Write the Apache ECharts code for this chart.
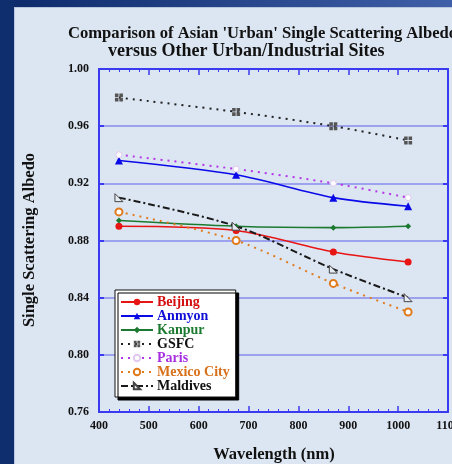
<!DOCTYPE html>
<html>
<head>
<meta charset="utf-8">
<script src="https://cdn.jsdelivr.net/npm/echarts@6/dist/echarts.min.js"></script>
<style>
  html, body { margin: 0; padding: 0; background: #dce6f2; }
  #chart { width: 452px; height: 464px; }
</style>
</head>
<body>
<div id="chart"></div>
<script>
// Wavelengths (nm) of the retrievals
const wavelengths = [440, 675, 870, 1020];

// Single scattering albedo per site
const beijing  = [0.890, 0.887, 0.872, 0.865];
const anmyon   = [0.936, 0.926, 0.910, 0.904];
const kanpur   = [0.894, 0.890, 0.889, 0.890];
const gsfc     = [0.980, 0.970, 0.960, 0.950];
const paris    = [0.940, 0.930, 0.920, 0.910];
const mexico   = [0.900, 0.880, 0.850, 0.830];
const maldives = [0.910, 0.890, 0.860, 0.840];

const siteNames = ['Beijing', 'Anmyon', 'Kanpur', 'GSFC', 'Paris', 'Mexico City', 'Maldives'];

const serif = '"Liberation Serif", "Times New Roman", serif';
const axisBlue = '#3a3af0';

function pairs(vals) {
  return wavelengths.map((w, i) => [w, vals[i]]);
}

const styles = {
  'Beijing':     { color: '#e81515', text: '#d41010', type: 'solid', width: 1.6, symbol: 'circle', size: 7 },
  'Anmyon':      { color: '#0a0ae8', text: '#1010d8', type: 'solid', width: 1.6, symbol: 'triangle', size: 8 },
  'Kanpur':      { color: '#1c7a30', text: '#1c7a30', type: 'solid', width: 1.6, symbol: 'diamond', size: 6 },
  'GSFC':        { color: '#222222', text: '#111111', type: [2, 5], width: 2, symbol: 'path://M0,0H4V4H0Z M5,0H9V4H5Z M0,5H4V9H0Z M5,5H9V9H5Z', size: 8, fill: '#555555' },
  'Paris':       { color: '#b436e8', text: '#a62ee0', type: [2, 5], width: 2, symbol: 'circle', size: 6, fill: '#ffffff', border: '#e0c8f0' },
  'Mexico City': { color: '#e07a1c', text: '#d8701a', type: [2, 5], width: 2, symbol: 'emptyCircle', size: 7 },
  'Maldives':    { color: '#1a1a1a', text: '#111111', type: [7, 3, 2, 3], width: 2, symbol: 'path://M0,0L10,10L0,10Z', size: 8, fill: '#e6ecf4', border: '#444444' }
};

const seriesValues = [beijing, anmyon, kanpur, gsfc, paris, mexico, maldives];

const series = siteNames.map((name, i) => {
  const s = styles[name];
  const itemStyle = { color: s.fill || s.color };
  if (s.border) { itemStyle.borderColor = s.border; itemStyle.borderWidth = 1; }
  if (s.symbol === 'emptyCircle') { itemStyle.borderWidth = 1.6; itemStyle.borderColor = s.color; }
  return {
    name: name,
    type: 'line',
    data: pairs(seriesValues[i]),
    smooth: 0.3,
    symbol: s.symbol,
    symbolSize: s.size,
    showSymbol: true,
    lineStyle: { color: s.color, width: s.width, type: s.type },
    itemStyle: itemStyle,
    z: 3
  };
});

const chart = echarts.init(document.getElementById('chart'), null, { renderer: 'canvas' });

const tickLabel = { color: '#111', fontFamily: serif, fontWeight: 'bold', fontSize: 12 };

chart.setOption({
  backgroundColor: '#dce6f2',
  animation: false,
  grid: { left: 99, right: 4, top: 69, bottom: 52, outerBoundsMode: 'none', containLabel: false },
  graphic: [
    { type: 'rect', shape: { x: 0, y: 0, width: 452, height: 7 }, z: 100,
      style: { fill: new echarts.graphic.LinearGradient(0, 0, 1, 0, [
        { offset: 0, color: '#0c2a6a' }, { offset: 1, color: '#3f5fa8' }]) } },
    { type: 'rect', shape: { x: 0, y: 0, width: 14, height: 464 }, z: 100, style: { fill: '#0f2e6e' } },
    { type: 'rect', shape: { x: 14, y: 7, width: 438, height: 1 }, z: 100, style: { fill: '#b9c7de' } },
    { type: 'rect', shape: { x: 14, y: 7, width: 1, height: 457 }, z: 100, style: { fill: '#b9c7de' } },
    { type: 'text', left: 68, top: 25, z: 100,
      style: { text: "Comparison of Asian 'Urban' Single Scattering Albedo", font: 'bold 16.6px ' + serif, fill: '#111' } },
    { type: 'text', left: 108, top: 42, z: 100,
      style: { text: 'versus Other Urban/Industrial Sites', font: 'bold 18px ' + serif, fill: '#111' } },
    { type: 'text', x: 30, y: 240, rotation: Math.PI / 2, z: 100,
      style: { text: 'Single Scattering Albedo', font: 'bold 16.5px ' + serif, fill: '#111', align: 'center', verticalAlign: 'middle' } },
    { type: 'text', x: 274, y: 455, z: 100,
      style: { text: 'Wavelength (nm)', font: 'bold 16.5px ' + serif, fill: '#111', align: 'center', verticalAlign: 'middle' } }
  ],
  legend: {
    orient: 'vertical',
    left: 115,
    top: 290,
    padding: [5, 6, 4, 5],
    itemGap: 0,
    itemWidth: 32,
    itemHeight: 8,
    backgroundColor: '#ffffff',
    borderColor: '#111',
    borderWidth: 1,
    borderRadius: 0,
    shadowColor: '#000',
    shadowBlur: 0,
    shadowOffsetX: 3,
    shadowOffsetY: 3,
    textStyle: { fontFamily: serif, fontWeight: 'bold', fontSize: 14, lineHeight: 14, padding: [0, 0, 0, -1] },
    data: siteNames.map(n => ({ name: n, textStyle: { color: styles[n].text } }))
  },
  xAxis: [
    {
      type: 'value', min: 400, max: 1100, interval: 100, position: 'bottom',
      axisLine: { show: true, onZero: false, lineStyle: { color: axisBlue, width: 2 } },
      axisTick: { show: true, inside: true, length: 6, lineStyle: { color: axisBlue, width: 1.5 } },
      minorTick: { show: true, splitNumber: 5, length: 3, lineStyle: { color: axisBlue, width: 1 } },
      axisLabel: Object.assign({ margin: 8, formatter: v => String(v) }, tickLabel),
      splitLine: { show: false }
    },
    {
      type: 'value', min: 400, max: 1100, interval: 100, position: 'top',
      axisLine: { show: true, onZero: false, lineStyle: { color: axisBlue, width: 2 } },
      axisTick: { show: true, inside: true, length: 6, lineStyle: { color: axisBlue, width: 1.5 } },
      minorTick: { show: true, splitNumber: 5, length: 3, lineStyle: { color: axisBlue, width: 1 } },
      axisLabel: { show: false },
      splitLine: { show: false }
    }
  ],
  yAxis: [
    {
      type: 'value', min: 0.76, max: 1.00, interval: 0.04, position: 'left',
      axisLine: { show: true, onZero: false, lineStyle: { color: axisBlue, width: 2 } },
      axisTick: { show: true, inside: true, length: 5, lineStyle: { color: axisBlue, width: 2 } },
      axisLabel: Object.assign({ margin: 10, formatter: v => v.toFixed(2) }, tickLabel),
      splitLine: { show: true, lineStyle: { color: 'rgba(80,80,235,0.45)', width: 2 } }
    },
    {
      type: 'value', min: 0.76, max: 1.00, interval: 0.04, position: 'right',
      axisLine: { show: true, onZero: false, lineStyle: { color: axisBlue, width: 2 } },
      axisTick: { show: true, inside: true, length: 5, lineStyle: { color: axisBlue, width: 2 } },
      axisLabel: { show: false },
      splitLine: { show: false }
    }
  ],
  series: series
});
</script>
</body>
</html>
